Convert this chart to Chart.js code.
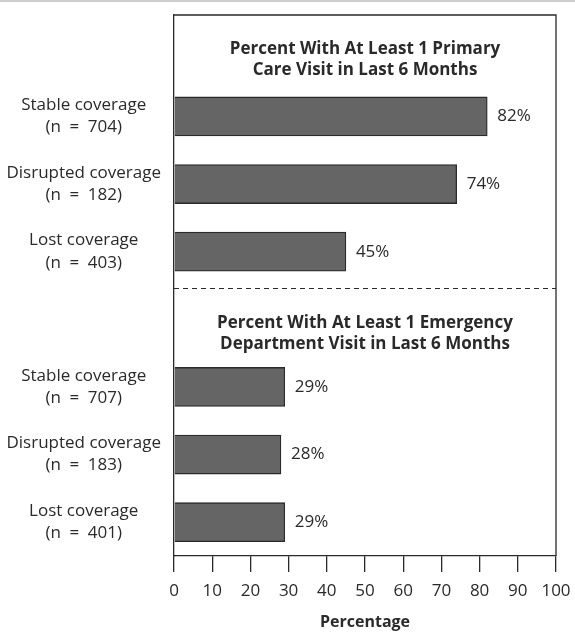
<!DOCTYPE html>
<html>
<head>
<meta charset="utf-8">
<script src="https://cdn.jsdelivr.net/npm/chart.js@4"></script>
<style>
  html, body { margin: 0; padding: 0; background: #fff; }
  #wrap { width: 575px; height: 633px; position: relative; }
  #wrap canvas { display: block; }
  #topline { position: absolute; left: 0; top: 0; width: 575px; height: 2px; background: #cfcfcf; }
</style>
</head>
<body>
<div id="wrap">
  <div id="topline"></div>
  <canvas id="chart" width="575" height="633"></canvas>
</div>
<script>
// Primary care vs emergency department visits, by coverage status

var coverageNames  = ['Stable coverage', 'Disrupted coverage', 'Lost coverage'];
var primaryN       = [704, 182, 403];
var primaryPct     = [82, 74, 45];
var emergencyN     = [707, 183, 401];
var emergencyPct   = [29, 28, 29];
var groupTitles    = [
  ['Percent With At Least 1 Primary', 'Care Visit in Last 6 Months'],
  ['Percent With At Least 1 Emergency', 'Department Visit in Last 6 Months']
];
var xAxisTitle = 'Percentage';

var FONT = '"Open Sans", "Noto Sans", sans-serif';
var INK  = '#2a2a2a';

function groupLabels(ns) {
  return coverageNames.map(function(name, i) { return [name, '(n\u2002=\u2002' + ns[i] + ')']; });
}

// one empty slot per group title, then the three bars
var labels = [''].concat(groupLabels(primaryN), [''], groupLabels(emergencyN));
var values = [null].concat(primaryPct, [null], emergencyPct);
var titleSlots = [0, 4];

var framePlugin = {
  id: 'frame',
  afterDraw: function(chart) {
    var ctx = chart.ctx, a = chart.chartArea, y = chart.scales.y;
    ctx.save();
    ctx.strokeStyle = INK;
    ctx.lineWidth = 1.3;
    ctx.beginPath();
    ctx.moveTo(a.left, a.top);
    ctx.lineTo(a.right, a.top);
    ctx.lineTo(a.right, a.bottom);
    ctx.stroke();

    // dashed separator between the two groups
    var sep = (y.getPixelForValue(3) + y.getPixelForValue(4)) / 2 + 3;
    ctx.setLineDash([5, 4]);
    ctx.lineWidth = 1;
    ctx.beginPath();
    ctx.moveTo(a.left, sep);
    ctx.lineTo(a.right, sep);
    ctx.stroke();
    ctx.setLineDash([]);

    // group titles
    ctx.fillStyle = INK;
    ctx.font = 'bold 17px ' + FONT;
    ctx.textAlign = 'center';
    ctx.textBaseline = 'middle';
    var cx = (a.left + a.right) / 2;
    titleSlots.forEach(function(slot, g) {
      var yc = y.getPixelForValue(slot) + (g === 0 ? 0 : 4);
      ctx.fillText(groupTitles[g][0], cx, yc);
      ctx.fillText(groupTitles[g][1], cx, yc + 21);
    });

    // value labels
    ctx.font = '17px ' + FONT;
    ctx.textAlign = 'left';
    chart.getDatasetMeta(0).data.forEach(function(bar, i) {
      if (values[i] == null) return;
      ctx.fillText(values[i] + '%', bar.x + 10, bar.y);
    });
    ctx.restore();
  }
};

new Chart(document.getElementById('chart').getContext('2d'), {
  type: 'bar',
  data: {
    labels: labels,
    datasets: [{
      data: values,
      backgroundColor: '#656565',
      borderColor: INK,
      borderWidth: 1.3,
      barThickness: 39
    }]
  },
  plugins: [framePlugin],
  options: {
    indexAxis: 'y',
    responsive: false,
    animation: false,
    layout: { padding: { top: 15, right: 19, left: 0, bottom: 0 } },
    plugins: { legend: { display: false }, tooltip: { enabled: false } },
    scales: {
      x: {
        min: 0, max: 100,
        ticks: { stepSize: 10, color: INK, padding: 9, font: { family: FONT, size: 17 } },
        grid: { drawOnChartArea: false, drawTicks: true, tickLength: 16, color: INK, lineWidth: 1.3 },
        border: { display: true, color: INK, width: 1.3 },
        title: { display: true, text: xAxisTitle, color: INK, padding: { top: 8, bottom: 1 },
                 font: { family: FONT, size: 16, weight: 'bold' } },
        afterFit: function(scale) {
          scale.height = 77;
          scale.paddingLeft = 0; scale.paddingRight = 0;
        }
      },
      y: {
        ticks: { crossAlign: 'center', padding: 13, color: INK,
                 font: { family: FONT, size: 17, lineHeight: 1.3 } },
        grid: { display: false, drawTicks: false },
        border: { display: true, color: INK, width: 1.3 },
        afterFit: function(scale) {
          scale.width = 174;
          scale.paddingTop = 0; scale.paddingBottom = 0;
        }
      }
    }
  }
});
</script>
</body>
</html>
